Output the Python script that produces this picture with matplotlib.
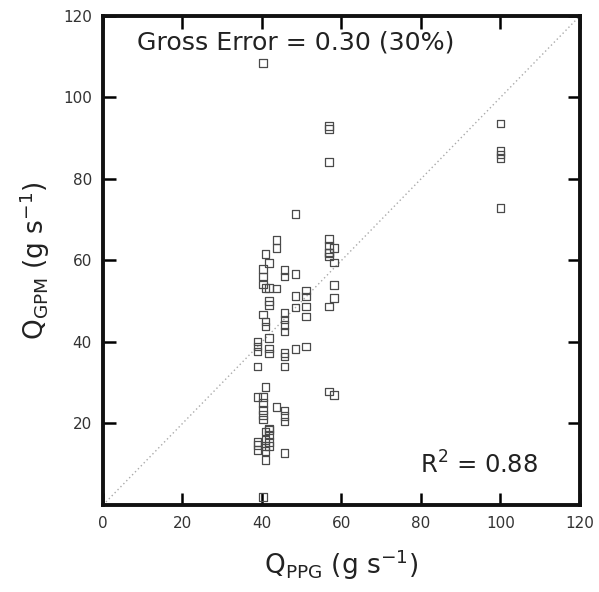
import numpy as np
import matplotlib
matplotlib.use('Agg')
import matplotlib.pyplot as plt

plt.rcParams['font.family'] = ['DejaVu Sans']
plt.rcParams['mathtext.fontset'] = 'dejavusans'

# Q_PPG values (x) and Q_GPM values (y)
q_ppg = [40.2]*11 + [38.9]*8 + [40.9]*10 + [41.7]*12 + [43.7]*4 + [45.7]*13 \
    + [48.4]*5 + [51.1]*5 + [56.8]*10 + [58.1]*5 + [100.0]*5
q_gpm = [108.4, 57.9, 56.1, 54.1, 46.7, 25.0, 23.3, 22.1, 21.0, 26.5, 2.0,
         40.1, 38.9, 37.7, 34.0, 26.5, 15.5, 14.7, 13.5,
         61.6, 53.2, 45.0, 43.8, 28.9, 18.0, 15.9, 14.5, 13.2, 11.1,
         59.4, 53.2, 50.1, 49.1, 41.0, 38.4, 37.2, 18.8, 18.4, 17.2, 15.5, 14.4,
         65.1, 63.1, 53.1, 24.0,
         57.7, 56.1, 47.1, 45.5, 44.2, 42.6, 37.3, 36.4, 34.0, 23.2, 21.9, 20.5, 12.7,
         71.4, 56.7, 51.3, 48.5, 38.3,
         52.6, 51.2, 48.7, 46.3, 38.9,
         93.0, 92.2, 84.1, 65.3, 63.7, 62.0, 61.8, 61.0, 48.7, 27.8,
         63.1, 59.5, 54.0, 50.8, 27.0,
         93.6, 86.8, 86.0, 85.2, 72.9]

gross_error = 'Gross Error = 0.30 (30%)'
r2_text = r'R$^2$ = 0.88'

fig = plt.figure(figsize=(5.99, 5.92), dpi=100)
ax = fig.add_axes([0.172, 0.147, 0.796, 0.826])

ax.plot([0, 120], [0, 120], ls=(0, (1, 2)), color='#aaaaaa', lw=1.0, zorder=1)
ax.scatter(q_ppg, q_gpm, marker='s', s=30, facecolors='none',
           edgecolors='#4a4a4a', linewidths=0.9, zorder=2)

ax.set_xlim(0, 120)
ax.set_ylim(0, 120)
ax.set_xticks([0, 20, 40, 60, 80, 100, 120])
ax.set_yticks([20, 40, 60, 80, 100, 120])
ax.tick_params(direction='in', length=9, width=1.8, top=True, right=True,
               labelsize=11, labelcolor='#333333', pad=8)
for sp in ax.spines.values():
    sp.set_linewidth(2.8)
    sp.set_color('#111111')

ax.set_xlabel(r'Q$_{\mathrm{PPG}}$ (g s$^{\mathrm{-1}}$)', fontsize=19, color='#222222', labelpad=12)
ax.set_ylabel(r'Q$_{\mathrm{GPM}}$ (g s$^{\mathrm{-1}}$)', fontsize=19, color='#222222', labelpad=8)

ax.text(8.5, 116.5, gross_error, fontsize=18.2, color='#222222', va='top', ha='left')
ax.text(109.5, 6.5, r2_text, fontsize=17.5, color='#222222', va='bottom', ha='right')

fig.savefig('out.png', dpi=100)
